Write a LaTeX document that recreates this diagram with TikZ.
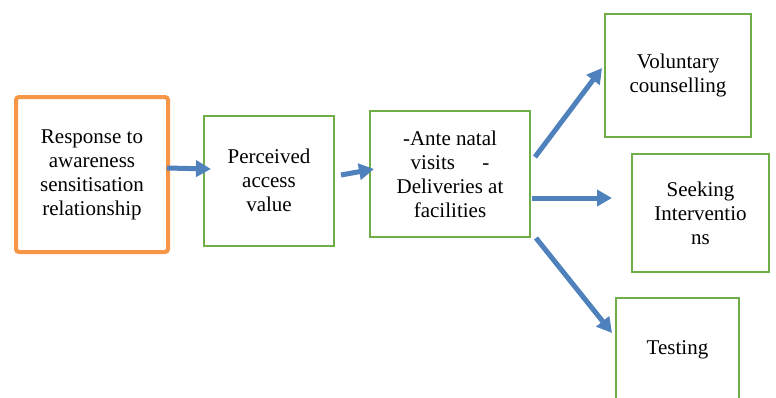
\documentclass[tikz,border=0pt]{standalone}
\usepackage{fontspec}
\setmainfont{Liberation Serif}
\usepackage{xcolor}
\usetikzlibrary{arrows.meta, shapes}
\definecolor{boxorange}{HTML}{F79646}
\definecolor{boxgreen}{HTML}{70AD47}
\definecolor{arrowblue}{HTML}{4F81BD}
\tikzstyle{start} = [rectangle, rounded corners=1.5pt, inner sep=0pt, align=center, draw=boxorange, line width=2pt]
\tikzstyle{box} = [rectangle, inner sep=0pt, align=center, draw=boxgreen, line width=1pt]
\tikzstyle{arrow} = [draw=arrowblue, line width=2.5pt, -{Triangle[length=7.5pt, width=8pt]}]

\begin{document}
\begin{tikzpicture}[x=0.5pt, y=0.5pt, yscale=-1, font=\fontsize{10.5}{12}\selectfont]

\useasboundingbox (0, 0) rectangle (776, 397);
\clip (0, 0) rectangle (776, 397);

\node at (92, 174.5) (response) [start, minimum width=76pt, minimum height=77.5pt] {Response to\\awareness\\sensitisation\\relationship};
\node at (269, 180.5) (perceived) [box, minimum width=65pt, minimum height=65pt] {Perceived\\access\\value};
\node at (450, 174) (visits) [box, minimum width=80pt, minimum height=63pt] {-Ante natal\\visits\hspace{1.3em}-\\Deliveries at\\facilities};
\node at (678, 75.5) (counselling) [box, minimum width=73pt, minimum height=61.5pt] {Voluntary\\counselling};
\node at (700.5, 213) (seeking) [box, minimum width=68.5pt, minimum height=59pt] {Seeking\\Interventio\\ns};
\node at (677.5, 350) (testing) [box, minimum width=61.5pt, minimum height=52pt] {Testing};

\draw [arrow] ([shift={(-3, -6.5)}]response.east) -- ([shift={(8, -11.5)}]perceived.west);
\draw [arrow] ([shift={(6, -5.5)}]perceived.east) -- ([shift={(5, -5)}]visits.west);
\draw [arrow] ([shift={(4, -17)}]visits.east) -- ([shift={(-2, -7.5)}]counselling.west);
\draw [arrow] ([shift={(1, 24)}]visits.east) -- ([shift={(-19, -15)}]seeking.west);
\draw [arrow] ([shift={(5, 0)}]visits.south east) -- ([shift={(-3, -17)}]testing.west);

\end{tikzpicture}
\end{document}
